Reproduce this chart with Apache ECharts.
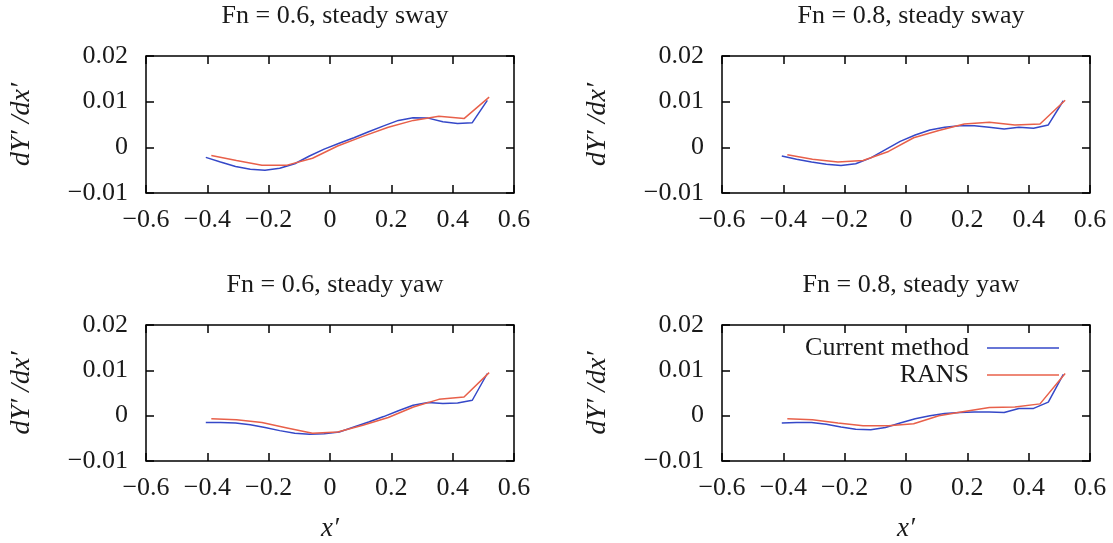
<!DOCTYPE html>
<html>
<head>
<meta charset="utf-8">
<script src="https://cdn.jsdelivr.net/npm/echarts@6/dist/echarts.min.js"></script>
<style>
  html, body { margin: 0; padding: 0; background: #fff; }
  #chart { width: 1113px; height: 543px; }
</style>
</head>
<body>
<div id="chart"></div>
<script>
// stations along the hull (x')
const xCur = [-0.405, -0.357, -0.308, -0.260, -0.212, -0.164, -0.115, -0.067, -0.019, 0.030,
              0.078, 0.126, 0.175, 0.223, 0.271, 0.320, 0.368, 0.416, 0.464, 0.513];
const xRans = [-0.387, -0.305, -0.222, -0.140, -0.057, 0.025, 0.107, 0.190, 0.272, 0.355, 0.437, 0.519];

// dY'/dx' - current method
const curSway06 = [-0.0022, -0.0032, -0.0042, -0.0048, -0.0050, -0.0046, -0.0036, -0.0019, -0.0004, 0.0009,
                   0.0021, 0.0034, 0.0047, 0.0059, 0.0065, 0.0064, 0.0056, 0.0052, 0.0054, 0.0103];
const curSway08 = [-0.0019, -0.0026, -0.0032, -0.0037, -0.0040, -0.0036, -0.0023, -0.0005, 0.0013, 0.0027,
                   0.0038, 0.0044, 0.0047, 0.0047, 0.0044, 0.0040, 0.0044, 0.0042, 0.0049, 0.0102];
const curYaw06 = [-0.0015, -0.0015, -0.0016, -0.0020, -0.0026, -0.0033, -0.0039, -0.0041, -0.0040, -0.0036,
                  -0.0025, -0.0014, -0.0002, 0.0011, 0.0023, 0.0029, 0.0027, 0.0028, 0.0034, 0.0093];
const curYaw08 = [-0.0016, -0.0015, -0.0015, -0.0019, -0.0025, -0.0030, -0.0031, -0.0026, -0.0016, -0.0007,
                  0.0000, 0.0005, 0.0007, 0.0008, 0.0008, 0.0007, 0.0016, 0.0016, 0.0030, 0.0091];

// dY'/dx' - RANS
const ransSway06 = [-0.0018, -0.0029, -0.0039, -0.0039, -0.0024, 0.0003, 0.0024, 0.0044, 0.0059, 0.0068, 0.0063, 0.0110];
const ransSway08 = [-0.0016, -0.0026, -0.0032, -0.0029, -0.0009, 0.0021, 0.0037, 0.0051, 0.0055, 0.0049, 0.0051, 0.0103];
const ransYaw06 = [-0.0007, -0.0009, -0.0015, -0.0027, -0.0039, -0.0036, -0.0021, -0.0004, 0.0019, 0.0036, 0.0041, 0.0095];
const ransYaw08 = [-0.0007, -0.0009, -0.0016, -0.0022, -0.0022, -0.0018, 0.0000, 0.0009, 0.0018, 0.0019, 0.0026, 0.0093];

const panelTitles = ['Fn = 0.6, steady sway', 'Fn = 0.8, steady sway', 'Fn = 0.6, steady yaw', 'Fn = 0.8, steady yaw'];
const curPanels = [curSway06, curSway08, curYaw06, curYaw08];
const ransPanels = [ransSway06, ransSway08, ransYaw06, ransYaw08];

const xMin = -0.6, xMax = 0.6, xStep = 0.2;
const yMin = -0.01, yMax = 0.02, yStep = 0.01;

const FONT = '"Liberation Serif", "DejaVu Serif", serif';
const TXT = '#1a1a1a';
const BLUE = '#3548c8';
const RED = '#e8604a';

// plot boxes
const boxes = [
    { left: 146, top: 56, width: 368, height: 137 },
    { left: 722, top: 56, width: 368, height: 137 },
    { left: 146, top: 325, width: 368, height: 137 },
    { left: 722, top: 325, width: 368, height: 137 }
];

function fmt(v) {
    const s = String(+v.toFixed(3));
    return s.replace('-', '\u2212');
}

const grid = [], xAxis = [], yAxis = [], series = [], title = [];

boxes.forEach((b, k) => {
    grid.push({
        left: b.left, top: b.top, width: b.width, height: b.height,
        show: true, borderColor: '#000', borderWidth: 1.5, backgroundColor: 'transparent'
    });
    title.push({
        text: panelTitles[k],
        left: b.left + b.width / 2,
        top: b.top - 58,
        textAlign: 'center',
        textStyle: { fontFamily: FONT, fontSize: 26, fontWeight: 'normal', color: TXT }
    });

    const tick = { show: true, inside: true, length: 8, lineStyle: { color: '#000', width: 1.5 } };
    const bottomPanel = k >= 2;

    // bottom x axis with labels
    xAxis.push({
        type: 'value', gridIndex: k, position: 'bottom',
        min: xMin, max: xMax, interval: xStep,
        axisLine: { show: false, onZero: false },
        axisTick: tick,
        splitLine: { show: false },
        axisLabel: { margin: 14, fontFamily: FONT, fontSize: 26, color: TXT, formatter: fmt },
        name: bottomPanel ? 'x\u2032' : '',
        nameLocation: 'middle', nameGap: 54,
        nameTextStyle: { fontFamily: FONT, fontSize: 27, fontStyle: 'italic', color: TXT }
    });
    // top mirror
    xAxis.push({
        type: 'value', gridIndex: k, position: 'top',
        min: xMin, max: xMax, interval: xStep,
        axisLine: { show: false, onZero: false },
        axisTick: tick, axisLabel: { show: false }, splitLine: { show: false }
    });
    // left y axis with labels
    yAxis.push({
        type: 'value', gridIndex: k, position: 'left',
        min: yMin, max: yMax, interval: yStep,
        axisLine: { show: false, onZero: false },
        axisTick: tick,
        splitLine: { show: false },
        axisLabel: { margin: 18, fontFamily: FONT, fontSize: 26, color: TXT, formatter: fmt },
        name: 'dY\u2032 /dx\u2032',
        nameLocation: 'middle', nameGap: 110,
        nameTextStyle: { fontFamily: FONT, fontSize: 28, fontStyle: 'italic', color: TXT }
    });
    // right mirror
    yAxis.push({
        type: 'value', gridIndex: k, position: 'right',
        min: yMin, max: yMax, interval: yStep,
        axisLine: { show: false, onZero: false },
        axisTick: tick, axisLabel: { show: false }, splitLine: { show: false }
    });

    series.push({
        name: 'Current method', type: 'line',
        xAxisIndex: 2 * k, yAxisIndex: 2 * k,
        data: xCur.map((x, i) => [x, curPanels[k][i]]),
        symbol: 'none', lineStyle: { color: BLUE, width: 1.5 }, itemStyle: { color: BLUE }
    });
    series.push({
        name: 'RANS', type: 'line',
        xAxisIndex: 2 * k, yAxisIndex: 2 * k,
        data: xRans.map((x, i) => [x, ransPanels[k][i]]),
        symbol: 'none', lineStyle: { color: RED, width: 1.5 }, itemStyle: { color: RED }
    });
});

const myChart = echarts.init(document.getElementById('chart'));
myChart.setOption({
    animation: false,
    backgroundColor: '#fff',
    title: title,
    legend: {
        data: ['Current method', 'RANS'],
        orient: 'vertical',
        align: 'right',
        right: 49,
        top: 330,
        icon: 'rect',
        itemWidth: 72,
        itemHeight: 1.5,
        itemGap: 1,
        textStyle: { fontFamily: FONT, fontSize: 26, color: TXT, lineHeight: 25, padding: [0, 13, 0, 0] }
    },
    grid: grid,
    xAxis: xAxis,
    yAxis: yAxis,
    series: series
});
</script>
</body>
</html>
